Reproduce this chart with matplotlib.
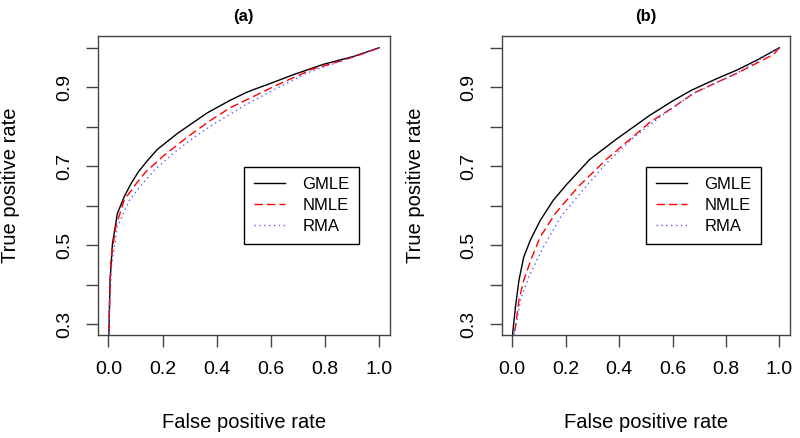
import matplotlib
matplotlib.use("Agg")
import matplotlib.pyplot as plt

plt.rcParams["font.family"] = ["Liberation Sans", "DejaVu Sans"]

# panel (a)
gmle_a_fpr = [0.0, 0.002, 0.006, 0.015, 0.033, 0.058, 0.082, 0.11, 0.144, 0.18, 0.255,
              0.365, 0.45, 0.507, 0.54, 0.6, 0.684, 0.794, 0.905, 1.0]
gmle_a_tpr = [0.25, 0.285, 0.411, 0.504, 0.58, 0.622, 0.654, 0.685, 0.714, 0.742, 0.783,
              0.835, 0.867, 0.886, 0.895, 0.91, 0.932, 0.958, 0.978, 1.0]
nmle_a_fpr = [0.0, 0.004, 0.009, 0.027, 0.058, 0.105, 0.14, 0.205, 0.29, 0.377, 0.45,
              0.507, 0.549, 0.62, 0.696, 0.75, 0.85, 0.92, 1.0]
nmle_a_tpr = [0.25, 0.35, 0.462, 0.546, 0.614, 0.658, 0.687, 0.727, 0.773, 0.816, 0.848,
              0.867, 0.881, 0.905, 0.928, 0.945, 0.965, 0.98, 1.0]
rma_a_fpr = [0.0, 0.005, 0.012, 0.033, 0.076, 0.119, 0.17, 0.242, 0.32, 0.39, 0.475,
             0.5, 0.598, 0.733, 0.85, 1.0]
rma_a_tpr = [0.25, 0.35, 0.45, 0.546, 0.612, 0.65, 0.69, 0.734, 0.775, 0.807, 0.842,
             0.853, 0.889, 0.936, 0.964, 1.0]

# panel (b)
gmle_b_fpr = [0.0, 0.002, 0.012, 0.025, 0.043, 0.068, 0.105, 0.154, 0.204, 0.29, 0.389,
              0.476, 0.513, 0.6, 0.67, 0.76, 0.843, 0.92, 1.0]
gmle_b_tpr = [0.25, 0.28, 0.344, 0.411, 0.47, 0.513, 0.563, 0.614, 0.654, 0.717, 0.768,
              0.81, 0.828, 0.865, 0.892, 0.92, 0.944, 0.97, 1.0]
nmle_b_fpr = [0.0, 0.012, 0.025, 0.043, 0.074, 0.105, 0.161, 0.25, 0.352, 0.451, 0.513,
              0.6, 0.682, 0.843, 0.979, 1.0]
nmle_b_tpr = [0.25, 0.293, 0.361, 0.411, 0.47, 0.521, 0.58, 0.65, 0.717, 0.774, 0.81,
              0.848, 0.886, 0.936, 0.983, 1.0]
rma_b_fpr = [0.0, 0.015, 0.031, 0.062, 0.117, 0.185, 0.272, 0.352, 0.45, 0.55, 0.68,
             0.843, 1.0]
rma_b_tpr = [0.25, 0.3, 0.361, 0.42, 0.496, 0.575, 0.645, 0.707, 0.77, 0.823, 0.885,
             0.936, 1.0]

panels = [
    ("(a)", [(gmle_a_fpr, gmle_a_tpr), (nmle_a_fpr, nmle_a_tpr), (rma_a_fpr, rma_a_tpr)]),
    ("(b)", [(gmle_b_fpr, gmle_b_tpr), (nmle_b_fpr, nmle_b_tpr), (rma_b_fpr, rma_b_tpr)]),
]
labels = ["GMLE", "NMLE", "RMA"]
styles = [
    dict(color="black", linestyle="-"),
    dict(color="red", linestyle=(0, (6, 3))),
    dict(color="#5a5aff", linestyle=(0, (1, 2.5))),
]
yticks = [0.3, 0.4, 0.5, 0.6, 0.7, 0.8, 0.9, 1.0]
ylabels = ["0.3", "", "0.5", "", "0.7", "", "0.9", ""]
xticks = [0.0, 0.2, 0.4, 0.6, 0.8, 1.0]

fig = plt.figure(figsize=(8, 4.38), dpi=100)
positions = [[0.122, 0.235, 0.3655, 0.683], [0.627, 0.235, 0.3605, 0.683]]
frame = "#444444"

for pos, (title, curves) in zip(positions, panels):
    ax = fig.add_axes(pos)
    for (x, y), lab, st in zip(curves, labels, styles):
        ax.plot(x, y, lw=1.0, label=lab, **st)
    ax.set_xlim(-0.04, 1.04)
    ax.set_ylim(0.272, 1.03)
    ax.set_xticks(xticks)
    ax.set_xticklabels([f"{v:.1f}" for v in xticks])
    ax.set_yticks(yticks)
    ax.set_yticklabels(ylabels, rotation=90, va="center")
    ax.tick_params(axis="both", length=8.5, width=1, color=frame, labelsize=14)
    ax.tick_params(axis="x", pad=10)
    ax.tick_params(axis="y", pad=9)
    for sp in ax.spines.values():
        sp.set_color(frame)
        sp.set_linewidth(1)
    ax.set_title(title, fontsize=12, fontweight="bold", pad=11)
    ax.set_xlabel("False positive rate", fontsize=14.5)
    ax.set_ylabel("True positive rate", fontsize=14.5)
    ax.xaxis.set_label_coords(0.5, -0.26)
    ax.yaxis.set_label_coords(-0.265, 0.5)
    leg = ax.legend(loc="upper left", bbox_to_anchor=(0.5, 0.562), fontsize=12,
                    frameon=True, fancybox=False, edgecolor="black", framealpha=1,
                    handlelength=1.9, handletextpad=1.0, labelspacing=0.35,
                    borderpad=0.6, borderaxespad=0)
    leg.get_frame().set_linewidth(1)

fig.savefig("out.png", dpi=100)
